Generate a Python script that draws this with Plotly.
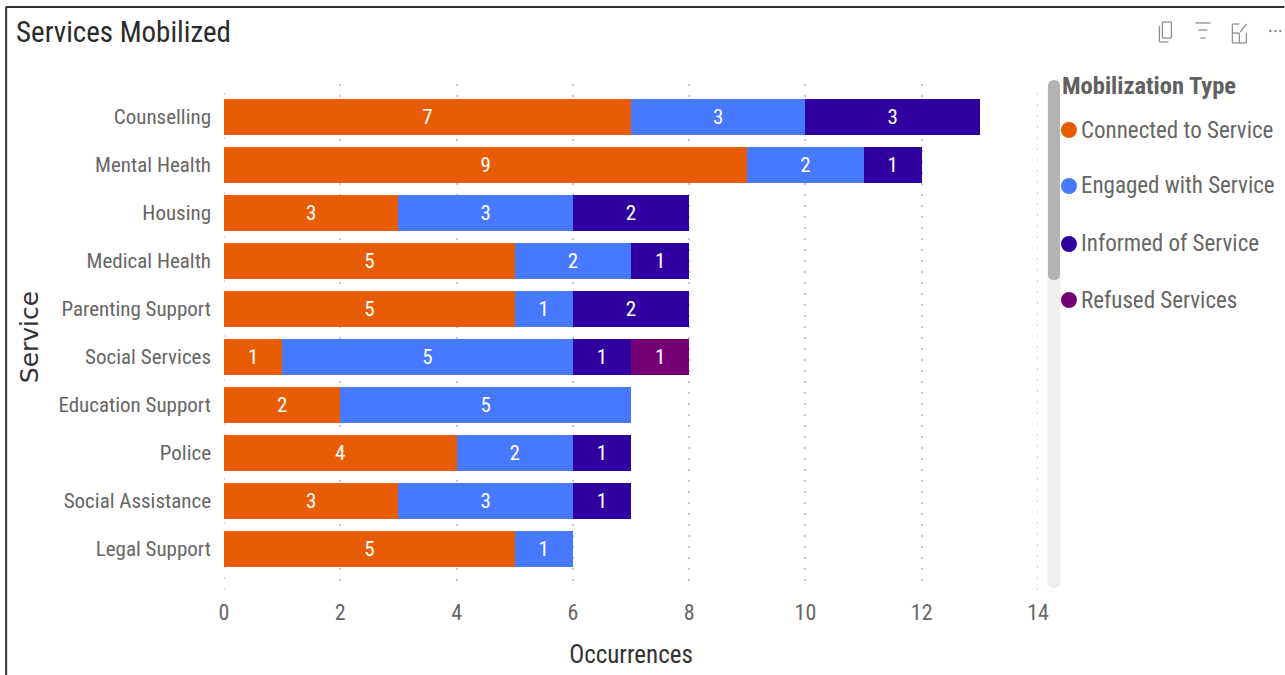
import plotly.graph_objects as go

services = ["Counselling", "Mental Health", "Housing", "Medical Health", "Parenting Support",
            "Social Services", "Education Support", "Police", "Social Assistance", "Legal Support"]
connected = [7, 9, 3, 5, 5, 1, 2, 4, 3, 5]
engaged = [3, 2, 3, 2, 1, 5, 5, 2, 3, 1]
informed = [3, 1, 2, 1, 2, 1, None, 1, 1, None]
refused = [None, None, None, None, None, 1, None, None, None, None]

series_names = ["Connected to Service", "Engaged with Service", "Informed of Service", "Refused Services"]
series_values = [connected, engaged, informed, refused]
series_colors = ["#E85D04", "#4679FF", "#3000A0", "#750075"]
legend_title = "Mobilization Type"
chart_title = "Services Mobilized"
x_ticks = [0, 2, 4, 6, 8, 10, 12, 14]

NARROW = "Roboto Condensed"
L, R, T, B = 224, 1038.5, 84, 590
def px(x): return (x - L) / (R - L)
def py(y): return (B - y) / (B - T)

fig = go.Figure()
for name, vals, col in zip(series_names, series_values, series_colors):
    fig.add_trace(go.Bar(
        y=services, x=vals, name=name, orientation="h", marker_color=col, marker_line_width=0,
        text=vals, textposition="inside", insidetextanchor="middle", textangle=0,
        insidetextfont=dict(family=NARROW, size=21, color="white"), showlegend=False))

shapes = []
annotations = []
def line(x0, y0, x1, y1, color, w):
    shapes.append(dict(type="line", xref="paper", yref="paper", x0=px(x0), y0=py(y0), x1=px(x1), y1=py(y1),
                       line=dict(color=color, width=w), layer="above"))
def pill(x0, x1, y0, y1, color):
    r = (x1 - x0) / 2
    xa, xb, xm = px(x0), px(x1), px((x0 + x1) / 2)
    path = (f"M {xa} {py(y0 + r)} Q {xa} {py(y0)} {xm} {py(y0)} Q {xb} {py(y0)} {xb} {py(y0 + r)} "
            f"L {xb} {py(y1 - r)} Q {xb} {py(y1)} {xm} {py(y1)} Q {xa} {py(y1)} {xa} {py(y1 - r)} Z")
    shapes.append(dict(type="path", xref="paper", yref="paper", path=path, fillcolor=color, line_width=0, layer="above"))
def dot(xc, yc, r, color):
    shapes.append(dict(type="circle", xref="paper", yref="paper", x0=px(xc - r), x1=px(xc + r), y0=py(yc - r), y1=py(yc + r),
                       fillcolor=color, line_width=0, layer="above"))

# gridlines at the two ends of the value axis, which the axis itself leaves out
for v in (x_ticks[0], x_ticks[-1]):
    shapes.append(dict(type="line", xref="x", yref="paper", x0=v, x1=v, y0=0, y1=1, layer="below",
                       line=dict(color="#C8C8C8", width=1.5, dash="2px 9px")))

# frame
line(5.5, 7, 1285, 7, "#333333", 2)
line(6, 7, 6, 675, "#333333", 2)

# scrollbar
pill(1048, 1061, 84, 588, "#EFEFEF")
pill(1048.5, 1060.5, 80, 280, "#B3B3B3")

# legend
annotations.append(dict(xref="paper", yref="paper", x=px(1061), y=py(85), text="<b>" + legend_title + "</b>",
                        showarrow=False, xanchor="left", yanchor="middle",
                        font=dict(family=NARROW, size=24.5, color="#606060")))
for name, col, yc in zip(series_names, series_colors, [130, 186, 244, 300]):
    dot(1069.5, yc, 8, col)
    annotations.append(dict(xref="paper", yref="paper", x=px(1080), y=py(yc), text=name, showarrow=False,
                            xanchor="left", yanchor="middle", font=dict(family=NARROW, size=23, color="#666666")))

# header icons
G = "#909090"
line(1163, 22, 1172, 22, G, 1.3); line(1172, 22, 1172, 38, G, 1.3); line(1172, 38, 1163, 38, G, 1.3); line(1163, 38, 1163, 22, G, 1.3)
line(1160, 26, 1160, 42, G, 1.3); line(1160, 42, 1169, 42, G, 1.3)
line(1196, 23, 1211, 23, G, 1.3); line(1199, 30, 1208, 30, G, 1.3); line(1201, 38, 1206, 38, G, 1.3)
line(1240, 24, 1233, 24, G, 1.3); line(1233, 24, 1233, 43, G, 1.3); line(1233, 43, 1247, 43, G, 1.3); line(1247, 43, 1247, 33, G, 1.3)
line(1233, 33, 1240, 33, G, 1.3); line(1240, 33, 1240, 43, G, 1.3); line(1241, 32, 1247, 24, G, 1.3)
for xc in [1271, 1276, 1281]:
    dot(xc, 31, 1.3, G)

fig.update_layout(
    width=1285, height=675, autosize=False, barmode="stack", bargap=0.25,
    margin=dict(l=L, r=1285 - R, t=T, b=675 - B),
    paper_bgcolor="white", plot_bgcolor="white",
    title=dict(text=chart_title, x=16 / 1285, xref="container", xanchor="left", y=1 - 32 / 675, yref="container",
               yanchor="middle", font=dict(family=NARROW, size=29, color="#2B2B2B")),
    xaxis=dict(range=[0, 14], tickmode="array", tickvals=x_ticks, showgrid=True,
               griddash="2px 9px", gridcolor="#C8C8C8", gridwidth=1.5, zeroline=False, showline=False, ticks="",
               ticklabelstandoff=7,
               tickfont=dict(family=NARROW, size=22, color="#666666"), automargin=False,
               title=dict(text="Occurrences", font=dict(family=NARROW, size=25, color="#333333"), standoff=21)),
    yaxis=dict(categoryorder="array", categoryarray=services, range=[9.854, -0.6875], showgrid=False, zeroline=False,
               showline=False, ticks="", ticklen=0, automargin=False, ticklabelstandoff=12,
               tickfont=dict(family=NARROW, size=21, color="#666666"),
               title=dict(text="Service", font=dict(family="DejaVu Sans", size=25, color="#333333"), standoff=12)),
    shapes=shapes, annotations=annotations, font=dict(family=NARROW), hovermode=False,
)
fig.write_html("out.html", post_script="document.body.style.margin='0';", config=dict(displayModeBar=False))
